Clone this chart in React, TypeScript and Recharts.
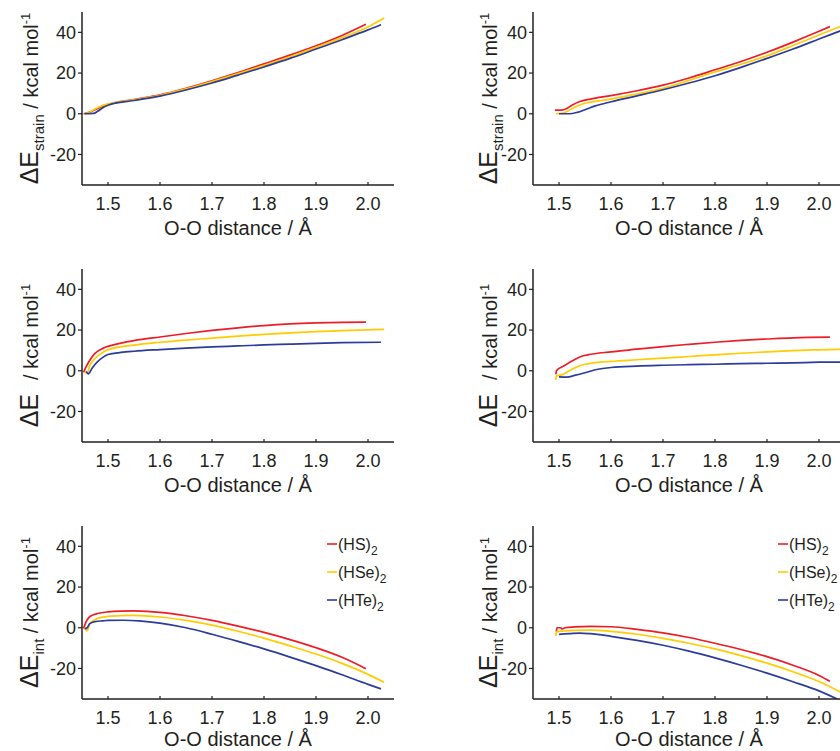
import React from 'react';
import { LineChart, Line, XAxis, YAxis, Customized } from 'recharts';

type Pt = [number, number];

// top row: strain energy
const strainL_HS: Pt[] = [[1.453,0],[1.465,0.8],[1.475,2],[1.485,3.2],[1.5,4.6],[1.55,7],[1.6,9.3],[1.65,12.5],[1.7,16.2],[1.75,20.2],[1.8,24.5],[1.85,28.8],[1.9,33.4],[1.95,38.5],[1.996,44]];
const strainL_HSe: Pt[] = [[1.455,0],[1.465,0.8],[1.475,2.3],[1.485,3.6],[1.5,4.8],[1.55,6.9],[1.6,9.1],[1.65,12.2],[1.7,15.8],[1.75,19.7],[1.8,23.8],[1.85,28],[1.9,32.6],[1.95,37.4],[2.0,42.6],[2.031,47]];
const strainL_HTe: Pt[] = [[1.455,0],[1.472,0.2],[1.48,1.2],[1.49,3],[1.5,4.2],[1.55,6.5],[1.6,8.7],[1.65,11.7],[1.7,15.1],[1.75,19],[1.8,23],[1.85,27.2],[1.9,31.8],[1.95,36.4],[2.0,41.2],[2.025,43.8]];

const strainR_HS: Pt[] = [[1.492,1.8],[1.505,1.8],[1.515,2.6],[1.525,4.2],[1.54,6],[1.56,7.2],[1.6,8.9],[1.65,11.3],[1.7,14.1],[1.75,17.6],[1.8,21.6],[1.85,25.7],[1.9,30.2],[1.95,35.2],[2.0,40.5],[2.021,42.8]];
const strainR_HSe: Pt[] = [[1.494,0],[1.51,0.5],[1.52,1.8],[1.53,3.2],[1.545,4.8],[1.56,5.7],[1.6,7.2],[1.65,9.7],[1.7,12.5],[1.75,16.4],[1.8,20.5],[1.85,24.3],[1.9,28.5],[1.95,33.5],[2.0,38.7],[2.05,43.8]];
const strainR_HTe: Pt[] = [[1.5,0],[1.52,0],[1.535,0.7],[1.55,2],[1.57,3.9],[1.6,5.9],[1.65,8.8],[1.7,11.8],[1.75,15.1],[1.8,18.7],[1.85,22.8],[1.9,27.2],[1.95,31.8],[2.0,36.7],[2.05,41.6]];

// middle row: total energy
const totalL_HS: Pt[] = [[1.453,-0.8],[1.458,2],[1.465,5.2],[1.475,8.5],[1.49,11],[1.5,12],[1.525,13.6],[1.55,14.8],[1.6,16.6],[1.65,18.3],[1.7,19.8],[1.75,21.1],[1.8,22.2],[1.85,23],[1.9,23.5],[1.95,23.8],[1.996,23.9]];
const totalL_HSe: Pt[] = [[1.455,-0.5],[1.46,-1.2],[1.465,2.5],[1.475,6],[1.49,9],[1.5,10.3],[1.55,12.6],[1.6,14],[1.65,15.1],[1.7,16],[1.75,17],[1.8,17.9],[1.85,18.6],[1.9,19.2],[1.95,19.7],[2.0,20.1],[2.031,20.3]];
const totalL_HTe: Pt[] = [[1.458,-0.3],[1.462,-1.5],[1.47,1.5],[1.48,4.5],[1.49,6.6],[1.5,8],[1.525,9],[1.55,9.6],[1.6,10.4],[1.65,11.1],[1.7,11.7],[1.75,12.2],[1.8,12.7],[1.85,13.1],[1.9,13.5],[1.95,13.8],[2.025,14]];

const totalR_HS: Pt[] = [[1.494,-1.8],[1.495,0],[1.51,2.5],[1.525,4.8],[1.54,6.8],[1.555,7.8],[1.6,9.3],[1.65,10.6],[1.7,11.9],[1.75,13],[1.8,14],[1.85,14.9],[1.9,15.6],[1.95,16.2],[2.021,16.5]];
const totalR_HSe: Pt[] = [[1.494,-4.5],[1.495,-2.5],[1.505,-2],[1.52,0],[1.535,2],[1.55,3.2],[1.57,4],[1.6,4.6],[1.65,5.4],[1.7,6.2],[1.75,7],[1.8,7.8],[1.85,8.6],[1.9,9.3],[1.95,9.9],[2.0,10.3],[2.05,10.6]];
const totalR_HTe: Pt[] = [[1.5,-3],[1.515,-3.1],[1.53,-2.3],[1.55,-1],[1.57,0.5],[1.6,1.6],[1.65,2.3],[1.7,2.7],[1.75,3],[1.8,3.2],[1.85,3.5],[1.9,3.7],[1.95,3.9],[2.0,4.2],[2.05,4.3]];

// bottom row: interaction energy
const intL_HS: Pt[] = [[1.453,-0.3],[1.458,3],[1.463,5],[1.47,6.2],[1.48,7],[1.5,7.8],[1.525,8.2],[1.55,8.3],[1.575,8.1],[1.6,7.6],[1.65,5.9],[1.7,3.6],[1.75,0.8],[1.8,-2.3],[1.85,-5.8],[1.9,-9.8],[1.95,-14.5],[1.996,-20.1]];
const intL_HSe: Pt[] = [[1.455,0],[1.46,-1.5],[1.465,2],[1.475,4],[1.49,5.2],[1.5,5.6],[1.525,6],[1.55,6.1],[1.6,5.3],[1.65,3.6],[1.7,1.3],[1.75,-1.7],[1.8,-5.1],[1.85,-8.9],[1.9,-12.9],[1.95,-17.5],[2.0,-22.9],[2.031,-26.8]];
const intL_HTe: Pt[] = [[1.455,-0.5],[1.46,0],[1.465,2],[1.475,3],[1.49,3.4],[1.5,3.6],[1.53,3.7],[1.56,3.4],[1.6,2.3],[1.65,0],[1.7,-3.2],[1.75,-6.7],[1.8,-10.4],[1.85,-14.4],[1.9,-18.6],[1.95,-23.1],[2.0,-27.8],[2.025,-30]];

const intR_HS: Pt[] = [[1.495,-2],[1.496,0],[1.503,0],[1.506,-0.6],[1.512,0],[1.53,0.4],[1.56,0.7],[1.6,0.5],[1.65,-0.8],[1.7,-2.5],[1.75,-4.8],[1.8,-7.6],[1.85,-10.7],[1.9,-14.2],[1.95,-18.4],[2.0,-23.4],[2.021,-26.3]];
const intR_HSe: Pt[] = [[1.494,-4],[1.495,-2],[1.51,-1.6],[1.53,-1.3],[1.56,-1.2],[1.6,-1.8],[1.65,-3.2],[1.7,-5.2],[1.75,-7.6],[1.8,-10.4],[1.85,-13.7],[1.9,-17.4],[1.95,-21.6],[2.0,-26.4],[2.05,-32.8]];
const intR_HTe: Pt[] = [[1.5,-3.2],[1.52,-2.9],[1.54,-2.6],[1.56,-2.9],[1.6,-4.2],[1.65,-6.2],[1.7,-8.6],[1.75,-11.5],[1.8,-14.8],[1.85,-18.4],[1.9,-22.3],[1.95,-26.5],[2.0,-31],[2.035,-35]];

const xTicks = [1.5, 1.6, 1.7, 1.8, 1.9, 2.0];
const yTicks = [-20, 0, 20, 40];
const seriesNames = ['(HS)', '(HSe)', '(HTe)'];
const colors = ['#ee1c25', '#ffcc00', '#2b3c9a'];

const INK = '#231f20';
const FONT = '"Liberation Sans", Arial, sans-serif';

const XTick = ({ x, y, payload }: any) => (
  <g>
    <line x1={x} x2={x} y1={y} y2={y - 3} stroke={INK} strokeWidth={1.2} />
    <text x={x} y={y + 25} textAnchor="middle" fontSize={18} fill={INK} fontFamily={FONT}>
      {Number(payload.value).toFixed(1)}
    </text>
  </g>
);

const YTick = ({ x, y, payload }: any) => (
  <g>
    <line x1={x - 4} x2={x} y1={y} y2={y} stroke={INK} strokeWidth={1.2} />
    <text x={x - 6} y={y} dy="0.35em" textAnchor="end" fontSize={18} fill={INK} fontFamily={FONT}>
      {payload.value}
    </text>
  </g>
);

// axis titles + legend, in chart coordinates
const Overlay = ({ sub, labelX, legend, titleY }: { sub: string; labelX: number; legend: boolean; titleY: number }) => (
  <g fontFamily={FONT} fill={INK}>
    <text transform={`translate(${labelX}, 98.5) rotate(-90)`} textAnchor="middle" fill={INK}>
      <tspan fontSize={25}>ΔE</tspan>
      <tspan fontSize={15} dy={6}>{sub || '\u00A0\u00A0'}</tspan>
      <tspan fontSize={20} dy={-6}>{' / kcal mol'}</tspan>
      <tspan fontSize={13} dy={-8}>-1</tspan>
    </text>
    <text x={238} y={titleY} textAnchor="middle" fontSize={20} fill={INK}>O-O distance / Å</text>
    {legend &&
      seriesNames.map((n, i) => {
        const yy = 30 + i * 28;
        return (
          <g key={n}>
            <line x1={327} x2={337} y1={yy} y2={yy} stroke={colors[i]} strokeWidth={1.6} />
            <text x={338} y={yy + 5.5} fontSize={16} fill={INK}>
              {n}
              <tspan fontSize={12} dy={5}>2</tspan>
            </text>
          </g>
        );
      })}
  </g>
);

const Panel = ({ series, left, top, sub, labelX, legend, titleY = 235 }: any) => (
  <div style={{ position: 'absolute', left, top }}>
    <LineChart width={420} height={250} margin={{ top: 12, right: 26, left: 0, bottom: 0 }}>
      <XAxis
        type="number"
        dataKey="x"
        domain={[1.45, 2.05]}
        ticks={xTicks}
        allowDataOverflow
        height={65}
        tickSize={0}
        tickMargin={0}
        tick={<XTick />}
        tickLine={false}
        axisLine={{ stroke: INK, strokeWidth: 1.5 }}
        interval={0}
      />
      <YAxis
        type="number"
        dataKey="y"
        domain={[-35, 50]}
        ticks={yTicks}
        allowDataOverflow
        width={82}
        tickSize={0}
        tickMargin={0}
        tick={<YTick />}
        tickLine={false}
        axisLine={{ stroke: INK, strokeWidth: 1.5 }}
        interval={0}
      />
      {series.map((s: Pt[], i: number) => (
        <Line
          key={i}
          data={s.map(([x, y]) => ({ x, y }))}
          dataKey="y"
          type="monotone"
          stroke={colors[i]}
          strokeWidth={1.7}
          dot={false}
          activeDot={false}
          isAnimationActive={false}
        />
      ))}
      <Customized component={<Overlay sub={sub} labelX={labelX} legend={legend} titleY={titleY} />} />
    </LineChart>
  </div>
);

export default function App() {
  return (
    <div
      style={{
        position: 'absolute',
        left: 0,
        top: 0,
        width: 840,
        height: 751,
        overflow: 'hidden',
        background: '#fff',
        fontFamily: FONT,
      }}
    >
      <Panel series={[strainL_HS, strainL_HSe, strainL_HTe]} left={0} top={0} sub="strain" labelX={38} legend={false} />
      <Panel series={[strainR_HS, strainR_HSe, strainR_HTe]} left={451} top={0} sub="strain" labelX={46} legend={false} />
      <Panel series={[totalL_HS, totalL_HSe, totalL_HTe]} left={0} top={257} sub="" labelX={38} legend={false} />
      <Panel series={[totalR_HS, totalR_HSe, totalR_HTe]} left={451} top={257} sub="" labelX={46} legend={false} />
      <Panel series={[intL_HS, intL_HSe, intL_HTe]} left={0} top={514} sub="int" labelX={38} legend titleY={232} />
      <Panel series={[intR_HS, intR_HSe, intR_HTe]} left={451} top={514} sub="int" labelX={46} legend titleY={232} />
    </div>
  );
}
